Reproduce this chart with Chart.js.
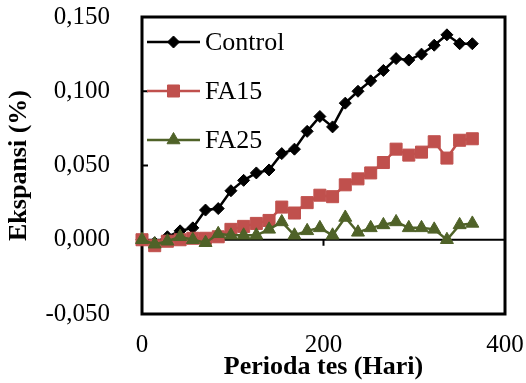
<!DOCTYPE html>
<html><head><meta charset="utf-8">
<script src="https://cdn.jsdelivr.net/npm/chart.js@4.4.1/dist/chart.umd.min.js"></script>
<style>html,body{margin:0;padding:0;background:#fff;}#wrap{width:526px;height:383px;}</style>
</head><body><div id="wrap"><canvas id="c" width="526" height="383"></canvas></div>
<script>
// ---- data ----
const days = [0,14,28,42,56,70,84,98,112,126,140,154,168,182,196,210,224,238,252,266,280,294,308,322,336,350,364];
const control = [0,-0.002,0.002,0.006,0.008,0.020,0.021,0.033,0.040,0.045,0.047,0.058,0.061,0.073,0.083,0.076,0.092,0.100,0.107,0.114,0.122,0.121,0.125,0.131,0.138,0.132,0.132];
const fa15 = [0,-0.004,-0.001,0.000,0.001,0.001,0.002,0.007,0.009,0.011,0.013,0.022,0.018,0.025,0.030,0.029,0.037,0.041,0.045,0.052,0.061,0.057,0.059,0.066,0.055,0.067,0.068];
const fa25 = [0,-0.003,-0.001,0.002,0.000,-0.002,0.004,0.003,0.003,0.003,0.007,0.012,0.003,0.006,0.008,0.003,0.015,0.005,0.008,0.010,0.012,0.008,0.008,0.007,0.000,0.010,0.011];
const seriesNames = ['Control','FA15','FA25'];
const xTicks = [0,200,400];
const yTicks = [-0.05,0,0.05,0.10,0.15];
const xTitle = 'Perioda tes (Hari)';
const yTitle = 'Ekspansi (%)';

const toPts = arr => arr.map((v,i)=>({x:days[i],y:v}));
const SERIF = "'Liberation Serif','Times New Roman',serif";

const framePlugin = {
  id:'frame',
  beforeDatasetsDraw(chart){
    const {ctx, chartArea:a, scales:{x,y}} = chart;
    ctx.save();
    ctx.strokeStyle='#000';
    const y0 = y.getPixelForValue(0);
    ctx.lineWidth = 2;
    ctx.beginPath(); ctx.moveTo(a.left,y0); ctx.lineTo(a.right,y0); ctx.stroke();
    xTicks.forEach(v=>{const px=x.getPixelForValue(v); ctx.beginPath(); ctx.moveTo(px,y0); ctx.lineTo(px,y0+6); ctx.stroke();});
    yTicks.forEach(v=>{const py=y.getPixelForValue(v); ctx.beginPath(); ctx.moveTo(a.left,py); ctx.lineTo(a.left+6,py); ctx.stroke();});
    ctx.lineWidth=3;
    ctx.strokeRect(a.left,a.top,a.right-a.left,a.bottom-a.top);
    ctx.restore();
  }
};

function marker(ctx, style, r, x, y, color){
  ctx.fillStyle=color; ctx.strokeStyle=color; ctx.lineWidth=1;
  ctx.beginPath();
  if(style==='rectRot'){ctx.moveTo(x-r,y);ctx.lineTo(x,y-r);ctx.lineTo(x+r,y);ctx.lineTo(x,y+r);}
  else if(style==='rect'){const s=r*Math.SQRT1_2;ctx.rect(x-s,y-s,2*s,2*s);}
  else {const h=r;ctx.moveTo(x,y-h);ctx.lineTo(x+h*Math.sin(Math.PI/3*2),y-h*Math.cos(Math.PI/3*2));ctx.lineTo(x-h*Math.sin(Math.PI/3*2),y-h*Math.cos(Math.PI/3*2));}
  ctx.closePath(); ctx.fill(); ctx.stroke();
}

const legendPlugin = {
  id:'insideLegend',
  afterDatasetsDraw(chart){
    const {ctx, chartArea:a} = chart;
    ctx.save();
    chart.data.datasets.forEach((ds,i)=>{
      const yy = a.top + 25 + i*49;
      const x1 = a.left + 5, x2 = a.left + 58;
      ctx.strokeStyle = ds.borderColor; ctx.lineWidth = ds.borderWidth;
      ctx.beginPath(); ctx.moveTo(x1,yy); ctx.lineTo(x2,yy); ctx.stroke();
      marker(ctx, ds.pointStyle, ds.pointRadius, (x1+x2)/2, yy, ds.pointBackgroundColor);
      ctx.fillStyle='#000'; ctx.font = "26px "+SERIF; ctx.textBaseline='middle'; ctx.textAlign='left';
      ctx.fillText(ds.label, x2+5, yy+1);
    });
    ctx.restore();
  }
};

const mk = (label, data, color, style, r, order) => ({
  label, data: toPts(data), borderColor: color, backgroundColor: color,
  pointBackgroundColor: color, pointBorderColor: color, pointBorderWidth: 1,
  pointStyle: style, pointRadius: r, pointHoverRadius: r, borderWidth: 2.5,
  tension: 0, clip: false, order
});

new Chart(document.getElementById('c'), {
  type: 'line',
  data: { datasets: [
    mk(seriesNames[0], control, '#000000', 'rectRot', 6, 2),
    mk(seriesNames[1], fa15, '#C0504D', 'rect', 8.5, 1),
    mk(seriesNames[2], fa25, '#4F6228', 'triangle', 7.5, 0)
  ]},
  options: {
    responsive: false, animation: false,
    layout: { padding: { top: 17, right: 21, left: 0, bottom: 0 }, autoPadding: false },
    plugins: { legend: { display: false }, tooltip: { enabled: false } },
    scales: {
      x: {
        type: 'linear', min: 0, max: 400,
        afterBuildTicks: s => { s.ticks = xTicks.map(v=>({value:v})); },
        afterFit: s => { s.height = 69; s.paddingLeft = 0; s.paddingRight = 0; },
        grid: { display: false, drawTicks: false }, border: { display: false },
        ticks: { color:'#000', font: { family: SERIF, size: 25 }, padding: 16, maxRotation: 0 },
        title: { display: true, text: xTitle, color:'#000', font: { family: SERIF, size: 26, weight: 'bold' }, padding: { top: 0, bottom: 0 } }
      },
      y: {
        min: -0.05, max: 0.15,
        afterBuildTicks: s => { s.ticks = yTicks.map(v=>({value:v})); },
        afterFit: s => { s.width = 142; s.paddingTop = 0; s.paddingBottom = 0; },
        grid: { display: false, drawTicks: false }, border: { display: false },
        ticks: { color:'#000', font: { family: SERIF, size: 25 }, padding: 32,
          callback: v => (Math.abs(v)<1e-9?0:v).toFixed(3).replace('.',',') },
        title: { display: true, text: yTitle, color:'#000', font: { family: SERIF, size: 26, weight: 'bold' }, padding: { top: 4, bottom: 0 } }
      }
    }
  },
  plugins: [framePlugin, legendPlugin]
});
</script></body></html>
